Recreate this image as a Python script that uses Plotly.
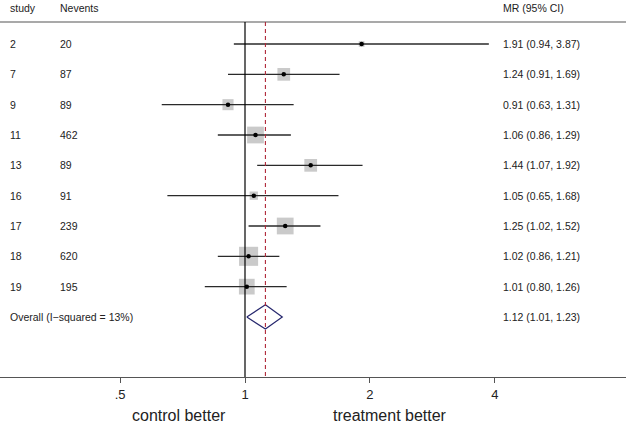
import math
import plotly.graph_objects as go

# ---- data ----
studies = ["2", "7", "9", "11", "13", "16", "17", "18", "19"]
nevents = [20, 87, 89, 462, 89, 91, 239, 620, 195]
mr = [1.91, 1.24, 0.91, 1.06, 1.44, 1.05, 1.25, 1.02, 1.01]
ci_lo = [0.94, 0.91, 0.63, 0.86, 1.07, 0.65, 1.02, 0.86, 0.80]
ci_hi = [3.87, 1.69, 1.31, 1.29, 1.92, 1.68, 1.52, 1.21, 1.26]
weights = [1.9, 9.4, 7.1, 16.3, 9.4, 4.0, 16.3, 21.1, 14.4]
overall_label = "Overall (I\u2212squared = 13%)"
overall = 1.12
overall_lo = 1.01
overall_hi = 1.23
tick_vals = [0.5, 1, 2, 4]
tick_text = [".5", "1", "2", "4"]

FONT = "Liberation Sans, Arial, Helvetica, sans-serif"
TXT = "#222222"
W, H = 626, 425

rows = list(range(len(studies)))
overall_row = len(studies)

fig = go.Figure()

# y geometry
y_top, y_bot = -1.451, 10.979
header_line = -0.725

# header rule drawn as a trace across the whole width
fig.add_trace(go.Scatter(x=[0.2, 10.0], y=[header_line, header_line], mode="lines",
                         line=dict(color="#9a9a9a", width=1.5), cliponaxis=True,
                         hoverinfo="skip", showlegend=False))

# CI lines
xs, ys = [], []
for r, l, h in zip(rows, ci_lo, ci_hi):
    xs += [l, h, None]
    ys += [r, r, None]

# weight boxes
sizes = [4.15 * math.sqrt(w) for w in weights]
fig.add_trace(go.Scatter(x=mr, y=rows, mode="markers",
                         marker=dict(symbol="square", size=sizes, color="#b4b4b4",
                                     line=dict(width=0)),
                         showlegend=False))
fig.add_trace(go.Scatter(x=xs, y=ys, mode="lines",
                         line=dict(color="#2a2a2a", width=1.3),
                         hoverinfo="skip", showlegend=False))
# point estimates
fig.add_trace(go.Scatter(x=mr, y=rows, mode="markers",
                         marker=dict(symbol="circle", size=4.5, color="black"),
                         showlegend=False))

# overall diamond
dh = 0.4
fig.add_trace(go.Scatter(
    x=[overall_lo, overall, overall_hi, overall, overall_lo],
    y=[overall_row, overall_row - dh, overall_row, overall_row + dh, overall_row],
    mode="lines", line=dict(color="#27286e", width=1.2),
    hoverinfo="skip", showlegend=False))

shapes = [
    dict(type="line", xref="paper", yref="y", x0=0, x1=1,
         y0=header_line, y1=header_line,
         layer="above", line=dict(color="#a0a0a0", width=1)),
    dict(type="line", xref="x", yref="y", x0=1, x1=1, y0=header_line, y1=y_bot,
         line=dict(color="black", width=1.2)),
    dict(type="line", xref="x", yref="y", x0=overall, x1=overall, y0=header_line, y1=y_bot,
         line=dict(color="#b02a3a", width=1.1, dash="4px,3px")),
]

ann = []
def txt(x, y, s, size=10.5, anchor="left", xref="paper", yref="y"):
    ann.append(dict(x=x, y=y, xref=xref, yref=yref, text=s, showarrow=False,
                    xanchor=anchor, yanchor="middle",
                    font=dict(family=FONT, size=size, color=TXT)))

hy = -1.2
txt(8 / W, hy, "study")
txt(58 / W, hy, "Nevents")
txt(501 / W, hy, "MR (95% CI)")
for r, s, n, m, l, h in zip(rows, studies, nevents, mr, ci_lo, ci_hi):
    txt(8 / W, r, s)
    txt(58 / W, r, str(n))
    txt(501 / W, r, f"{m:.2f} ({l:.2f}, {h:.2f})")
txt(8 / W, overall_row, overall_label)
txt(501 / W, overall_row, f"{overall:.2f} ({overall_lo:.2f}, {overall_hi:.2f})")

plot_h = 377
ann.append(dict(x=179 / W, y=(plot_h - 415) / plot_h, xref="paper", yref="paper",
                text="control better", showarrow=False, xanchor="center", yanchor="middle",
                font=dict(family=FONT, size=16, color=TXT)))
ann.append(dict(x=390 / W, y=(plot_h - 415) / plot_h, xref="paper", yref="paper",
                text="treatment better", showarrow=False, xanchor="center", yanchor="middle",
                font=dict(family=FONT, size=16, color=TXT)))

fig.update_layout(
    width=W, height=H,
    margin=dict(l=0, r=0, t=0, b=H - plot_h),
    paper_bgcolor="white", plot_bgcolor="white",
    shapes=shapes, annotations=ann,
    xaxis=dict(type="log", range=[-0.5905, 0.9183], tickvals=tick_vals, ticktext=tick_text,
               showgrid=False, zeroline=False, showline=True, linecolor="#555555", linewidth=1,
               ticks="outside", ticklen=5, tickcolor="#555555",
               tickfont=dict(family=FONT, size=13, color=TXT)),
    yaxis=dict(range=[y_bot, y_top], showgrid=False, zeroline=False, showline=False,
               showticklabels=False, ticks=""),
)

fig.write_html("out.html", config={"displayModeBar": False},
               post_script="document.body.style.margin='0px';document.body.style.overflow='hidden';")
